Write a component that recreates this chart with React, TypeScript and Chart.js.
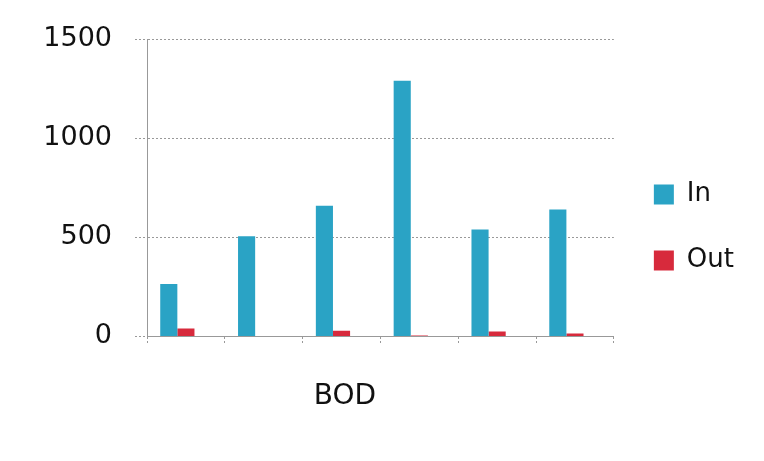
import React, { useEffect, useRef } from 'react';
import { Chart, registerables } from 'chart.js';
Chart.register(...registerables);

const categories = ['', '', '', '', '', ''];
const inValues = [265, 505, 660, 1290, 540, 640];
const outValues = [40, 0, 28, 5, 25, 15];
const spacerValues: (number | null)[] = [null, null, null, null, null, null];
const yTickValues = [0, 500, 1000, 1500];
const xTitle = 'BOD';

export default function App() {
  const ref = useRef<HTMLCanvasElement | null>(null);
  useEffect(() => {
    document.body.style.margin = '0';
    const ctx = ref.current!;
    const font = 'DejaVu Sans';
    const chart = new Chart(ctx, {
      type: 'bar',
      data: {
        labels: categories,
        datasets: [
          { label: 'In', data: inValues, backgroundColor: '#2AA3C5', borderWidth: 0 },
          { label: 'Out', data: outValues, backgroundColor: '#D72A3C', borderWidth: 0 },
          { label: '', data: spacerValues, backgroundColor: 'rgba(0,0,0,0)', borderWidth: 0 },
        ],
      },
      options: {
        animation: false,
        responsive: false,
        events: [],
        datasets: { bar: { categoryPercentage: 0.66, barPercentage: 1 } },
        layout: { padding: { top: 24, right: 20, bottom: 30, left: 0 } },
        plugins: {
          tooltip: { enabled: false },
          legend: {
            position: 'right',
            labels: {
              boxWidth: 20,
              boxHeight: 20,
              padding: 40,
              color: '#111',
              font: { family: font, size: 26 },
              filter: (item) => item.text !== '',
            },
          },
        },
        scales: {
          x: {
            grid: {
              display: true,
              drawOnChartArea: false,
              drawTicks: true,
              tickLength: 8,
              tickColor: '#999',
              tickBorderDash: [2, 2],
              offset: true,
            },
            border: { display: true, color: '#999', dash: [2, 2] },
            ticks: { display: false },
            title: {
              display: true,
              text: xTitle + '        ',
              color: '#111',
              font: { family: font, size: 28 },
              padding: { top: 36, bottom: 17 },
            },
          },
          y: {
            min: 0,
            max: 1500,
            afterBuildTicks: (scale: any) => {
              scale.ticks = yTickValues.map((v) => ({ value: v }));
            },
            afterFit: (scale: any) => {
              scale.width = 147;
            },
            grid: {
              color: '#999',
              tickLength: 12,
              tickColor: '#999',
              tickBorderDash: [2, 2],
            },
            border: { display: true, color: '#999', dash: [2, 2] },
            ticks: {
              padding: 23,
              color: '#111',
              font: { family: font, size: 27 },
              callback: (v: any) => String(v),
            },
          },
        },
      },
    });
    return () => chart.destroy();
  }, []);
  return <canvas ref={ref} width={764} height={461} style={{ display: 'block' }} />;
}
